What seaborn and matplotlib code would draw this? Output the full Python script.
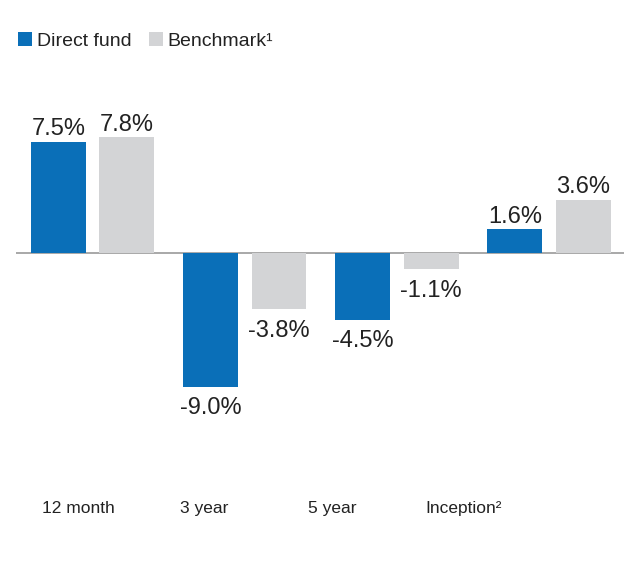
import pandas as pd
import seaborn as sns
import matplotlib.pyplot as plt

# values (%)
periods = ["12 month", "3 year", "5 year", "Inception²"]
direct_fund = [7.5, -9.0, -4.5, 1.6]
benchmark = [7.8, -3.8, -1.1, 3.6]
series_names = ["Direct fund", "Benchmark¹"]

# category labels sit a little left of each group in the original
label_pos = [-0.095, 0.733, 1.574, 2.44]

df = pd.DataFrame({
    "period": periods * 2,
    "value": direct_fund + benchmark,
    "series": [series_names[0]] * 4 + [series_names[1]] * 4,
})

sns.set_style("white")
plt.rcParams["font.family"] = ["Liberation Sans", "DejaVu Sans"]
text_color = "#222222"

fig = plt.figure(figsize=(6.24, 5.8), dpi=100)
ax = fig.add_axes([16 / 624, 148.8 / 580, 608 / 624, 326.7 / 580])

sns.barplot(data=df, x="period", y="value", hue="series",
            palette=["#0a6fb8", "#d3d4d6"], width=0.9, gap=0.2,
            saturation=1, linewidth=0, ax=ax)

ax.axhline(0, color="#9a9a9a", lw=1.2, zorder=0)
ax.set_xlim(-0.503, 3.492)
ax.set_ylim(-12, 10)

# value labels
for cont in ax.containers:
    for bar in cont:
        v = bar.get_height()
        x = bar.get_x() + bar.get_width() / 2
        if v >= 0:
            ax.annotate(f"{v:.1f}%", (x, v), xytext=(0, 1), textcoords="offset points",
                        ha="center", va="bottom", fontsize=17, color=text_color)
        else:
            ax.annotate(f"{v:.1f}%", (x, v), xytext=(0, -7.5), textcoords="offset points",
                        ha="center", va="top", fontsize=17, color=text_color)

ax.set_xticks(label_pos, periods)
ax.tick_params(axis="x", length=0, pad=50, labelsize=12.5, labelcolor=text_color)
ax.set_yticks([])
ax.set_xlabel("")
ax.set_ylabel("")
sns.despine(ax=ax, left=True, bottom=True)

handles, labels = ax.get_legend_handles_labels()
ax.get_legend().remove()
fig.legend(handles, labels, loc="upper left", bbox_to_anchor=(18 / 624, 1 - 32 / 580),
           ncol=2, frameon=False, fontsize=14, handlelength=0.72, handleheight=0.72,
           handletextpad=0.26, columnspacing=0.87, borderpad=0, borderaxespad=0,
           labelcolor=text_color)

fig.savefig("out.png", dpi=100)
